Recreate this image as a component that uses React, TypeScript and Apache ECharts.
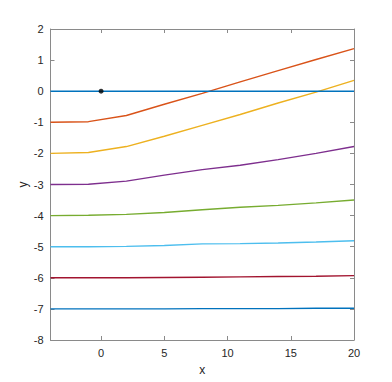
import React, { useEffect, useRef } from "react";
import * as echarts from "echarts";

const xs = [-4, -1, 2, 5, 8, 11, 14, 17, 20];
const line0 = [0, 0, 0, 0, 0, 0, 0, 0, 0];
const line1 = [-1, -0.98, -0.78, -0.42, -0.07, 0.3, 0.66, 1.02, 1.37];
const line2 = [-2, -1.97, -1.78, -1.45, -1.1, -0.75, -0.38, -0.03, 0.35];
const line3 = [-3, -2.99, -2.89, -2.7, -2.52, -2.38, -2.2, -2.0, -1.78];
const line4 = [-4, -3.99, -3.96, -3.9, -3.81, -3.73, -3.67, -3.59, -3.5];
const line5 = [-5, -5, -4.99, -4.96, -4.91, -4.9, -4.88, -4.85, -4.81];
const line6 = [-6, -6, -6, -5.99, -5.98, -5.97, -5.96, -5.95, -5.93];
const line7 = [-7, -7, -7, -7, -6.99, -6.99, -6.99, -6.98, -6.98];
const point = [[0, 0]];
const xTicks = [0, 5, 10, 15, 20];

const colors = ["#0072BD", "#D95319", "#EDB120", "#7E2F8E", "#77AC30", "#4DBEEE", "#A2142F", "#0072BD"];
const allLines = [line0, line1, line2, line3, line4, line5, line6, line7];

export default function App() {
  const ref = useRef<HTMLDivElement>(null);
  useEffect(() => {
    const chart = echarts.init(ref.current!, undefined, { renderer: "svg" });
    const axisColor = "#8a8a8a";
    const labelStyle = { color: "#262626", fontSize: 11, fontFamily: "Liberation Sans, Arial, sans-serif" };
    const series: any[] = allLines.map((ys, i) => ({
      type: "line",
      data: xs.map((x, j) => [x, ys[j]]),
      showSymbol: false,
      lineStyle: { color: colors[i], width: 1.4 },
      z: 2 + (allLines.length - i),
    }));
    series.push({
      type: "scatter",
      data: point,
      symbolSize: 5,
      itemStyle: { color: "#000" },
      z: 20,
    });
    const line = { show: true, onZero: false, lineStyle: { color: axisColor, width: 1 } };
    chart.setOption({
      animation: false,
      backgroundColor: "#fff",
      grid: { left: 50.5, top: 29, right: 38, bottom: 42 },
      xAxis: [
        {
          type: "value",
          min: -4,
          max: 20,
          position: "bottom",
          name: "x",
          nameLocation: "middle",
          nameGap: 24,
          nameMoveOverlap: false,
          nameTextStyle: { ...labelStyle, fontSize: 12 },
          axisLine: line,
          axisTick: { show: true, inside: true, length: 4, customValues: xTicks, lineStyle: { color: axisColor } },
          axisLabel: { ...labelStyle, customValues: xTicks, margin: 7 },
          splitLine: { show: false },
        },
        {
          type: "value",
          min: -4,
          max: 20,
          position: "top",
          axisLine: line,
          axisTick: { show: true, inside: true, length: 4, customValues: xTicks, lineStyle: { color: axisColor } },
          axisLabel: { show: false },
          splitLine: { show: false },
        },
      ],
      yAxis: [
        {
          type: "value",
          min: -8,
          max: 2,
          interval: 1,
          position: "left",
          name: "y",
          nameLocation: "middle",
          nameGap: 22,
          nameMoveOverlap: false,
          nameTextStyle: { ...labelStyle, fontSize: 12 },
          axisLine: line,
          axisTick: { show: true, inside: true, length: 4, lineStyle: { color: axisColor } },
          axisLabel: { ...labelStyle, margin: 7 },
          splitLine: { show: false },
        },
        {
          type: "value",
          min: -8,
          max: 2,
          interval: 1,
          position: "right",
          axisLine: line,
          axisTick: { show: true, inside: true, length: 4, lineStyle: { color: axisColor } },
          axisLabel: { show: false },
          splitLine: { show: false },
        },
      ],
      series,
    });
    return () => chart.dispose();
  }, []);
  return <div ref={ref} style={{ position: "fixed", left: 0, top: 0, width: 392, height: 382 }} />;
}
